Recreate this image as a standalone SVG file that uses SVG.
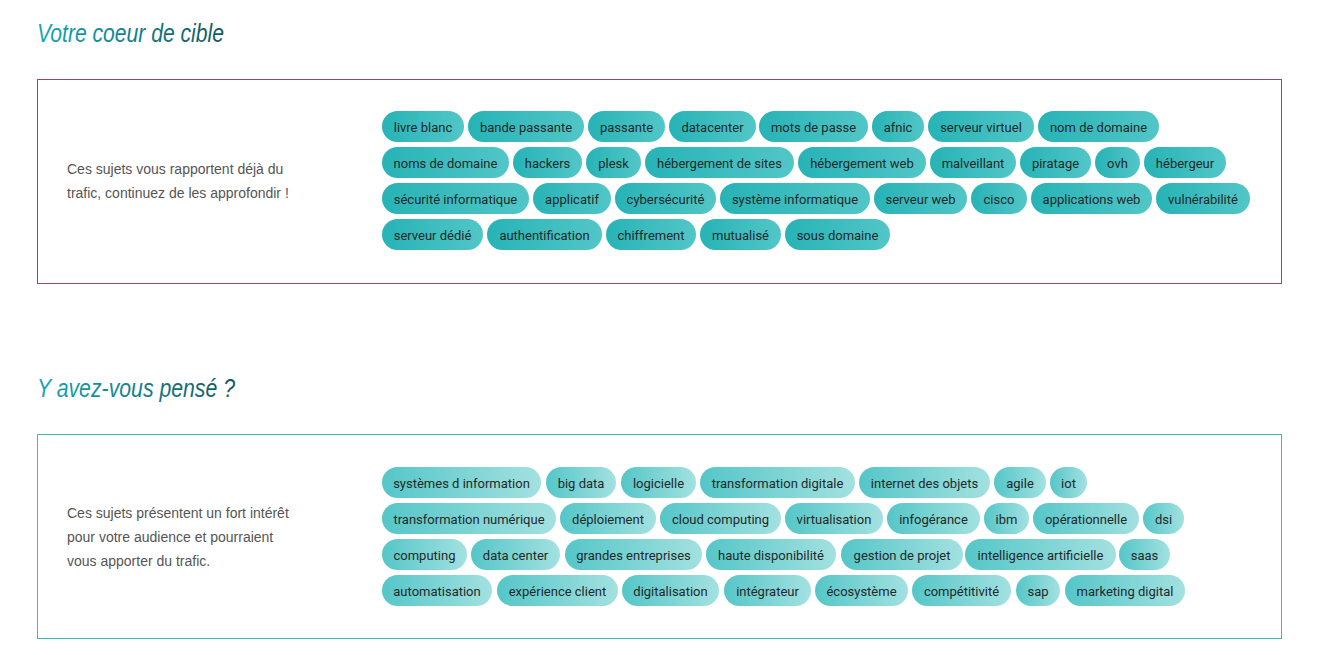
<svg xmlns="http://www.w3.org/2000/svg" width="1323" height="655" viewBox="0 0 1323 655">
<defs>
<linearGradient id="g1" x1="0" y1="0" x2="1" y2="0"><stop offset="0" stop-color="#27b3b6"/><stop offset="1" stop-color="#52c6c7"/></linearGradient>
<linearGradient id="g2" x1="0" y1="0" x2="1" y2="0"><stop offset="0" stop-color="#55c6c8"/><stop offset="1" stop-color="#a3e1e0"/></linearGradient>
<linearGradient id="gt" x1="0" y1="0" x2="1" y2="0"><stop offset="0" stop-color="#15a7b5"/><stop offset="1" stop-color="#105a60"/></linearGradient>
<style>
.t{font-family:Roboto,"Liberation Sans",sans-serif;font-size:13px;fill:#1f2a2a;text-anchor:middle}
.d{font-family:"Liberation Sans",Arial,sans-serif;font-size:14px;fill:#555}
.h{font-family:"Liberation Sans",Arial,sans-serif;font-size:25px;font-style:italic;fill:url(#gt)}
.a rect{fill:url(#g1)} .b rect{fill:url(#g2)}
.a text,.b text{transform:translateY(1px)}
</style>
</defs>
<rect width="1323" height="655" fill="#fff"/>
<text class="h" x="37" y="42" textLength="187" lengthAdjust="spacingAndGlyphs">Votre coeur de cible</text>
<rect x="37.5" y="79.5" width="1244" height="204" fill="none" stroke="#9a4a5e" stroke-width="1"/>
<text class="d" x="67" y="174">Ces sujets vous rapportent déjà du</text>
<text class="d" x="67" y="198">trafic, continuez de les approfondir !</text>
<text class="h" x="37" y="397" textLength="198" lengthAdjust="spacingAndGlyphs">Y avez-vous pensé ?</text>
<rect x="37.5" y="434.5" width="1244" height="204" fill="none" stroke="#3cb9b9" stroke-width="1"/>
<text class="d" x="67" y="518">Ces sujets présentent un fort intérêt</text>
<text class="d" x="67" y="542">pour votre audience et pourraient</text>
<text class="d" x="67" y="566">vous apporter du trafic.</text>
<g id="tags1" class="a">
<g id="t1"><rect x="382" y="111" width="82" height="31" rx="15.5"/><text class="t" x="423" y="131">livre blanc</text></g>
<g id="t2"><rect x="468" y="111" width="116" height="31" rx="15.5"/><text class="t" x="526" y="131">bande passante</text></g>
<g id="t3"><rect x="588" y="111" width="77" height="31" rx="15.5"/><text class="t" x="626.5" y="131">passante</text></g>
<g id="t4"><rect x="669" y="111" width="87" height="31" rx="15.5"/><text class="t" x="712.5" y="131">datacenter</text></g>
<g id="t5"><rect x="759" y="111" width="109" height="31" rx="15.5"/><text class="t" x="813.5" y="131">mots de passe</text></g>
<g id="t6"><rect x="872" y="111" width="52" height="31" rx="15.5"/><text class="t" x="898" y="131">afnic</text></g>
<g id="t7"><rect x="928" y="111" width="106" height="31" rx="15.5"/><text class="t" x="981" y="131">serveur virtuel</text></g>
<g id="t8"><rect x="1038" y="111" width="121" height="31" rx="15.5"/><text class="t" x="1098.5" y="131">nom de domaine</text></g>
<g id="t9"><rect x="382" y="147" width="127" height="31" rx="15.5"/><text class="t" x="445.5" y="167">noms de domaine</text></g>
<g id="t10"><rect x="513" y="147" width="69" height="31" rx="15.5"/><text class="t" x="547.5" y="167">hackers</text></g>
<g id="t11"><rect x="586" y="147" width="55" height="31" rx="15.5"/><text class="t" x="613.5" y="167">plesk</text></g>
<g id="t12"><rect x="645" y="147" width="149" height="31" rx="15.5"/><text class="t" x="719.5" y="167">hébergement de sites</text></g>
<g id="t13"><rect x="798" y="147" width="128" height="31" rx="15.5"/><text class="t" x="862" y="167">hébergement web</text></g>
<g id="t14"><rect x="930" y="147" width="86" height="31" rx="15.5"/><text class="t" x="973" y="167">malveillant</text></g>
<g id="t15"><rect x="1020" y="147" width="71" height="31" rx="15.5"/><text class="t" x="1055.5" y="167">piratage</text></g>
<g id="t16"><rect x="1095" y="147" width="45" height="31" rx="15.5"/><text class="t" x="1117.5" y="167">ovh</text></g>
<g id="t17"><rect x="1144" y="147" width="82" height="31" rx="15.5"/><text class="t" x="1185" y="167">hébergeur</text></g>
<g id="t18"><rect x="382" y="183" width="147" height="31" rx="15.5"/><text class="t" x="455.5" y="203">sécurité informatique</text></g>
<g id="t19"><rect x="533" y="183" width="78" height="31" rx="15.5"/><text class="t" x="572" y="203">applicatif</text></g>
<g id="t20"><rect x="615" y="183" width="101" height="31" rx="15.5"/><text class="t" x="665.5" y="203">cybersécurité</text></g>
<g id="t21"><rect x="720" y="183" width="150" height="31" rx="15.5"/><text class="t" x="795" y="203">système informatique</text></g>
<g id="t22"><rect x="874" y="183" width="93" height="31" rx="15.5"/><text class="t" x="920.5" y="203">serveur web</text></g>
<g id="t23"><rect x="971" y="183" width="56" height="31" rx="15.5"/><text class="t" x="999" y="203">cisco</text></g>
<g id="t24"><rect x="1031" y="183" width="121" height="31" rx="15.5"/><text class="t" x="1091.5" y="203">applications web</text></g>
<g id="t25"><rect x="1156" y="183" width="94" height="31" rx="15.5"/><text class="t" x="1203" y="203">vulnérabilité</text></g>
<g id="t26"><rect x="382" y="219" width="101" height="31" rx="15.5"/><text class="t" x="432.5" y="239">serveur dédié</text></g>
<g id="t27"><rect x="487" y="219" width="115" height="31" rx="15.5"/><text class="t" x="544.5" y="239">authentification</text></g>
<g id="t28"><rect x="606" y="219" width="90" height="31" rx="15.5"/><text class="t" x="651" y="239">chiffrement</text></g>
<g id="t29"><rect x="700" y="219" width="81" height="31" rx="15.5"/><text class="t" x="740.5" y="239">mutualisé</text></g>
<g id="t30"><rect x="785" y="219" width="105" height="31" rx="15.5"/><text class="t" x="837.5" y="239">sous domaine</text></g>
</g>
<g id="tags2" class="b">
<g id="u1"><rect x="382" y="467" width="159" height="31" rx="15.5"/><text class="t" x="461.5" y="487">systèmes d information</text></g>
<g id="u2"><rect x="546" y="467" width="70" height="31" rx="15.5"/><text class="t" x="581" y="487">big data</text></g>
<g id="u3"><rect x="621" y="467" width="75" height="31" rx="15.5"/><text class="t" x="658.5" y="487">logicielle</text></g>
<g id="u4"><rect x="700" y="467" width="155" height="31" rx="15.5"/><text class="t" x="777.5" y="487">transformation digitale</text></g>
<g id="u5"><rect x="859" y="467" width="131" height="31" rx="15.5"/><text class="t" x="924.5" y="487">internet des objets</text></g>
<g id="u6"><rect x="994" y="467" width="52" height="31" rx="15.5"/><text class="t" x="1020" y="487">agile</text></g>
<g id="u7"><rect x="1050" y="467" width="37" height="31" rx="15.5"/><text class="t" x="1068.5" y="487">iot</text></g>
<g id="u8"><rect x="382" y="503" width="174" height="31" rx="15.5"/><text class="t" x="469" y="523">transformation numérique</text></g>
<g id="u9"><rect x="560" y="503" width="96" height="31" rx="15.5"/><text class="t" x="608" y="523">déploiement</text></g>
<g id="u10"><rect x="660" y="503" width="121" height="31" rx="15.5"/><text class="t" x="720.5" y="523">cloud computing</text></g>
<g id="u11"><rect x="785" y="503" width="98" height="31" rx="15.5"/><text class="t" x="834" y="523">virtualisation</text></g>
<g id="u12"><rect x="887" y="503" width="93" height="31" rx="15.5"/><text class="t" x="933.5" y="523">infogérance</text></g>
<g id="u13"><rect x="984" y="503" width="45" height="31" rx="15.5"/><text class="t" x="1006.5" y="523">ibm</text></g>
<g id="u14"><rect x="1033" y="503" width="106" height="31" rx="15.5"/><text class="t" x="1086" y="523">opérationnelle</text></g>
<g id="u15"><rect x="1143" y="503" width="41" height="31" rx="15.5"/><text class="t" x="1163.5" y="523">dsi</text></g>
<g id="u16"><rect x="382" y="539" width="85" height="31" rx="15.5"/><text class="t" x="424.5" y="559">computing</text></g>
<g id="u17"><rect x="471" y="539" width="89" height="31" rx="15.5"/><text class="t" x="515.5" y="559">data center</text></g>
<g id="u18"><rect x="565" y="539" width="137" height="31" rx="15.5"/><text class="t" x="633.5" y="559">grandes entreprises</text></g>
<g id="u19"><rect x="706" y="539" width="130" height="31" rx="15.5"/><text class="t" x="771" y="559">haute disponibilité</text></g>
<g id="u20"><rect x="841" y="539" width="122" height="31" rx="15.5"/><text class="t" x="902" y="559">gestion de projet</text></g>
<g id="u21"><rect x="965" y="539" width="151" height="31" rx="15.5"/><text class="t" x="1040.5" y="559">intelligence artificielle</text></g>
<g id="u22"><rect x="1119" y="539" width="51" height="31" rx="15.5"/><text class="t" x="1144.5" y="559">saas</text></g>
<g id="u23"><rect x="382" y="575" width="110" height="31" rx="15.5"/><text class="t" x="437" y="595">automatisation</text></g>
<g id="u24"><rect x="497" y="575" width="121" height="31" rx="15.5"/><text class="t" x="557.5" y="595">expérience client</text></g>
<g id="u25"><rect x="622" y="575" width="97" height="31" rx="15.5"/><text class="t" x="670.5" y="595">digitalisation</text></g>
<g id="u26"><rect x="724" y="575" width="87" height="31" rx="15.5"/><text class="t" x="767.5" y="595">intégrateur</text></g>
<g id="u27"><rect x="815" y="575" width="93" height="31" rx="15.5"/><text class="t" x="861.5" y="595">écosystème</text></g>
<g id="u28"><rect x="912" y="575" width="99" height="31" rx="15.5"/><text class="t" x="961.5" y="595">compétitivité</text></g>
<g id="u29"><rect x="1016" y="575" width="44" height="31" rx="15.5"/><text class="t" x="1038" y="595">sap</text></g>
<g id="u30"><rect x="1065" y="575" width="120" height="31" rx="15.5"/><text class="t" x="1125" y="595">marketing digital</text></g>
</g>
</svg>
